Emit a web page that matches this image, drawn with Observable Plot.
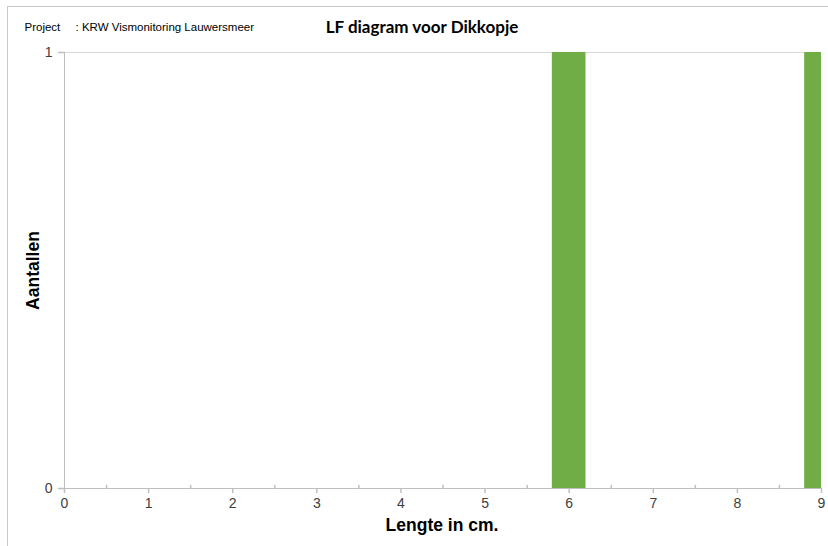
<!DOCTYPE html>
<html><head><meta charset="utf-8">
<script src="https://cdn.jsdelivr.net/npm/d3@7"></script>
<script src="https://cdn.jsdelivr.net/npm/@observablehq/plot@0.6"></script>
<style>
body{margin:0;background:#fff;}
#wrap{position:relative;width:828px;height:546px;overflow:hidden;background:#fff;}
#border{position:absolute;left:7px;top:6px;width:900px;height:600px;border:1px solid #c8c8c8;box-sizing:border-box;}
#chart{position:absolute;left:0;top:0;}
</style></head><body><div id="wrap"><div id="border"></div><div id="chart"></div></div>
<script>
const lengths = [6, 9];
const counts = [1, 1];
const binWidth = 0.4;
const xTicks = [0, 1, 2, 3, 4, 5, 6, 7, 8, 9];
const minorTicks = [0.5, 1.5, 2.5, 3.5, 4.5, 5.5, 6.5, 7.5, 8.5];
const yTicks = [0, 1];
const title = "LF diagram voor Dikkopje";
const projectLabel = "Project";
const projectName = ": KRW Vismonitoring Lauwersmeer";
const xLabel = "Lengte in cm.";
const yLabel = "Aantallen";

const bars = lengths.map((l, i) => ({x1: l - binWidth / 2, x2: l + binWidth / 2, count: counts[i]}));
const axisColor = "#bfbfbf";
const tickColor = "#404040";
const sans = "Liberation Sans, Arial, sans-serif";
const tickLine = (dir) => ({draw(c, l) { c.moveTo(0, 0); c.lineTo(dir === "down" ? 0 : -l, dir === "down" ? l : 0); }});

const plot = Plot.plot({
  width: 828,
  height: 546,
  marginLeft: 64,
  marginRight: 7,
  marginTop: 52,
  marginBottom: 58,
  style: {fontFamily: sans, background: "transparent", overflow: "visible"},
  x: {domain: [0, 9], axis: null},
  y: {domain: [0, 1], axis: null},
  marks: [
    Plot.ruleY([1], {stroke: "#d9d9d9"}),
    Plot.rect(bars, {x1: "x1", x2: "x2", y1: 0, y2: "count", fill: "#70ad47", clip: true}),
    Plot.ruleX([0], {stroke: axisColor}),
    Plot.ruleY([0], {stroke: axisColor}),
    // minor ticks (upward) at half units
    Plot.vector(minorTicks, {x: d => d, y: 0, length: 3, anchor: "start", stroke: axisColor,
      shape: {draw(c, l) { c.moveTo(0, 0); c.lineTo(0, -l); }}}),
    // major x ticks (downward)
    Plot.vector(xTicks, {x: d => d, y: 0, length: 4, anchor: "start", stroke: axisColor,
      shape: {draw(c, l) { c.moveTo(0, 0); c.lineTo(0, l); }}}),
    // y ticks (leftward)
    Plot.vector(yTicks, {x: 0, y: d => d, length: 6, anchor: "start", stroke: axisColor,
      shape: {draw(c, l) { c.moveTo(0, 0); c.lineTo(-l, 0); }}}),
    Plot.text(xTicks, {x: d => d, y: 0, text: d => String(d), dy: 15, lineAnchor: "middle",
      fontSize: 14, fill: tickColor}),
    Plot.text(yTicks, {x: 0, y: d => d, text: d => String(d), dx: -12, textAnchor: "end", lineAnchor: "middle",
      fontSize: 14, fill: tickColor}),
    Plot.text([title], {text: d => d, frameAnchor: "top", dx: -21, dy: -25, lineAnchor: "middle",
      fontFamily: "Lato, sans-serif", fontWeight: "bold", fontSize: 17, fill: "#000"}),
    Plot.text([projectLabel], {text: d => d, frameAnchor: "top-left", dx: -40, dy: -25, lineAnchor: "middle",
      textAnchor: "start", fontSize: 11.5, fill: "#000"}),
    Plot.text([projectName], {text: d => d, frameAnchor: "top-left", dx: 11, dy: -25, lineAnchor: "middle",
      textAnchor: "start", fontSize: 11.5, fill: "#000"}),
    Plot.text([xLabel], {text: d => d, frameAnchor: "bottom", dx: -1, dy: 37, lineAnchor: "middle",
      fontWeight: "bold", fontSize: 17.5, fill: "#000"}),
    Plot.text([yLabel], {text: d => d, frameAnchor: "left", dx: -31, rotate: -90, textAnchor: "middle",
      lineAnchor: "middle", fontWeight: "bold", fontSize: 17.5, fill: "#000"})
  ]
});
document.getElementById("chart").appendChild(plot);
</script>
</body></html>
